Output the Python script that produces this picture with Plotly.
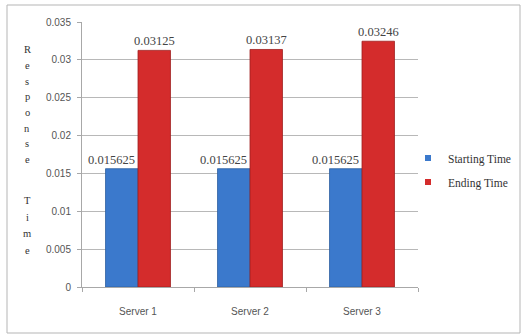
import plotly.graph_objects as go

categories = ["Server 1", "Server 2", "Server 3"]
starting_time = [0.015625, 0.015625, 0.015625]
ending_time = [0.03125, 0.03137, 0.03246]
starting_labels = ["0.015625", "0.015625", "0.015625"]
ending_labels = ["0.03125", "0.03137", "0.03246"]
y_ticks = [0, 0.005, 0.01, 0.015, 0.02, 0.025, 0.03, 0.035]
y_tick_text = ["0", "0.005", "0.01", "0.015", "0.02", "0.025", "0.03", "0.035"]
title_letters = list("Response") + [""] + list("Time")

W, H = 521, 335
L, R, T, B = 82, 418, 22, 287
pw, ph = R - L, B - T

def px(x):
    return (x - L) / pw

def py(y):
    return (B - y) / ph

serif = "Liberation Serif, Times New Roman, serif"
sans = "Liberation Sans Narrow, Liberation Sans, Arial, sans-serif"
blue, red = "#3b79cc", "#d42c2c"

fig = go.Figure()
fig.add_trace(go.Bar(
    x=categories, y=starting_time, name="Starting Time",
    marker=dict(color=blue, line=dict(color="#2d5f9f", width=0.8)),
    showlegend=False,
))
fig.add_trace(go.Bar(
    x=categories, y=ending_time, name="Ending Time",
    marker=dict(color=red, line=dict(color="#a02020", width=0.8)),
    showlegend=False,
))
# legend entries with small square keys
for nm, col, grp in [("Starting Time", blue, "a"), ("Ending Time", red, "b")]:
    fig.add_trace(go.Scatter(
        x=[None], y=[None], mode="markers", name=nm, legendgroup=grp,
        marker=dict(symbol="square", size=6, color=col),
        showlegend=True,
    ))

annotations = []
label_font = dict(family=serif, size=12.5, color="#444444")
for c, v, t in zip(categories, starting_time, starting_labels):
    annotations.append(dict(text=t, x=c, y=v, xref="x", yref="y", showarrow=False,
                            xanchor="center", yanchor="bottom", xshift=-27, yshift=0,
                            font=label_font))
for c, v, t in zip(categories, ending_time, ending_labels):
    annotations.append(dict(text=t, x=c, y=v, xref="x", yref="y", showarrow=False,
                            xanchor="center", yanchor="bottom", xshift=16, yshift=0,
                            font=label_font))

y0 = 50
for i, ch in enumerate(title_letters):
    if ch == "":
        continue
    yy = y0 + i * 15.6 if i < 8 else y0 + 8 * 15.6 + 25 - 15.6 + (i - 8) * 16.5
    annotations.append(dict(
        text=ch, x=px(27), y=py(yy), xref="paper", yref="paper",
        showarrow=False, xanchor="center", yanchor="middle",
        font=dict(family=serif, size=10.5, color="#333333"),
    ))

fig.update_layout(
    width=W, height=H,
    margin=dict(l=L, r=W - R, t=T, b=H - B, pad=0, autoexpand=False),
    paper_bgcolor="white", plot_bgcolor="white",
    barmode="group", bargap=0.42, bargroupgap=0,
    showlegend=True,
    legend=dict(
        x=px(408), y=py(170), xanchor="left", yanchor="middle",
        font=dict(family=serif, size=11.5, color="#333333"),
        tracegroupgap=5, traceorder="grouped", bgcolor="rgba(0,0,0,0)",
        itemwidth=30,
    ),
    xaxis=dict(
        showline=True, linecolor="#a8a8a8", linewidth=1,
        ticks="outside", tickson="boundaries", ticklen=4, tickcolor="#a8a8a8",
        tickfont=dict(family=sans, size=10, color="#555555"),
        ticklabelstandoff=15,
        showgrid=False,
    ),
    yaxis=dict(
        range=[0, 0.035], tickvals=y_ticks, ticktext=y_tick_text,
        showline=True, linecolor="#a8a8a8", linewidth=1,
        ticks="outside", ticklen=4, tickcolor="#a8a8a8",
        tickfont=dict(family=sans, size=10, color="#555555"),
        ticklabelstandoff=4,
        showgrid=True, gridcolor="#b8b8b8", gridwidth=1,
        zeroline=False,
    ),
    annotations=annotations,
    shapes=[dict(
        type="rect", xref="paper", yref="paper",
        x0=px(7), x1=px(520), y0=py(333), y1=py(5),
        line=dict(color="#b5b5b5", width=1), fillcolor="rgba(0,0,0,0)",
        layer="below",
    )],
)

fig.write_html("out.html")
